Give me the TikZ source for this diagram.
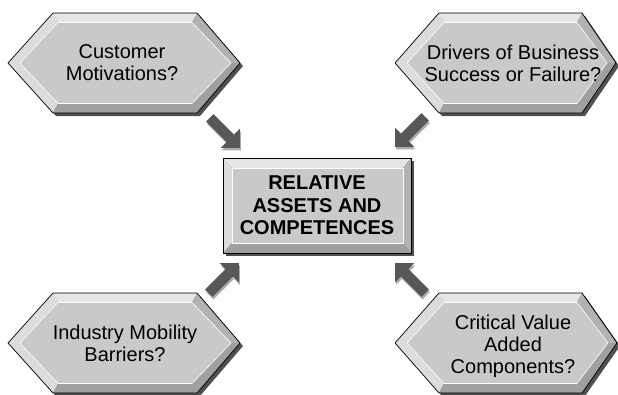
\documentclass[tikz,border=0pt]{standalone}
\usepackage{fontspec}
\setmainfont{Liberation Sans}
\usetikzlibrary{arrows.meta,calc}
\definecolor{facegray}{HTML}{C9C9C9}
\definecolor{lightbevel}{HTML}{E6E6E6}
\definecolor{softbevel}{HTML}{DCDCDC}
\definecolor{midbevel}{HTML}{B2B2B2}
\definecolor{darkbevel}{HTML}{A0A0A0}
\definecolor{shadowgray}{HTML}{505050}
\definecolor{arrowgray}{HTML}{575757}
\definecolor{arrowshade}{HTML}{ABABAB}
\tikzset{
 hextext/.style={align=center,font=\fontsize{20}{22}\selectfont},
 coretext/.style={align=center,inner sep=0pt,minimum width=188pt,minimum height=95pt,font=\bfseries\fontsize{20}{22.5}\selectfont},
 bigarrow/.style={line width=10.4pt,draw=arrowgray,-{Triangle[length=13.4pt,width=26.8pt,line width=0pt]}},
 arrowshadow/.style={bigarrow,draw=arrowshade,transform canvas={xshift=1pt,yshift=-2.5pt}},
}
% left point, top edge from #2 to #3, right point, centre height
\newcommand{\bevelhex}[5]{%
 \coordinate (L) at (#1,#5); \coordinate (A) at (#2,#5-50); \coordinate (B) at (#3,#5-50);
 \coordinate (R) at (#4,#5); \coordinate (C) at (#3,#5+50); \coordinate (D) at (#2,#5+50);
 \coordinate (l) at (#1+12,#5); \coordinate (a) at (#2+5,#5-40.5); \coordinate (b) at (#3-5,#5-40.5);
 \coordinate (r) at (#4-9,#5); \coordinate (c) at (#3-5,#5+40.5); \coordinate (d) at (#2+5,#5+40.5);
 \fill[shadowgray,transform canvas={xshift=3pt,yshift=-3pt}] (L)--(A)--(B)--(R)--(C)--(D)--cycle;
 \fill[lightbevel] (A)--(B)--(b)--(a)--cycle;
 \fill[softbevel] (A)--(L)--(D)--(d)--(l)--(a)--cycle;
 \fill[midbevel] (B)--(R)--(r)--(b)--cycle;
 \fill[darkbevel] (R)--(C)--(D)--(d)--(c)--(r)--cycle;
 \fill[facegray,draw=white,line width=0.6pt] (l)--(a)--(b)--(r)--(c)--(d)--cycle;
 \draw[line width=0.7pt] (L)--(A)--(B)--(R)--(C)--(D)--cycle;
}
% outer corners of a bevelled box
\newcommand{\bevelbox}[4]{%
 \fill[shadowgray,transform canvas={xshift=3pt,yshift=-3pt}] (#1,#2) rectangle (#3,#4);
 \fill[lightbevel] (#1,#2)--(#3,#2)--(#3-8,#2+10)--(#1+9,#2+10)--cycle;
 \fill[softbevel] (#1,#2)--(#1+9,#2+10)--(#1+9,#4-10)--(#1,#4)--cycle;
 \fill[midbevel] (#3,#2)--(#3,#4)--(#3-8,#4-10)--(#3-8,#2+10)--cycle;
 \fill[darkbevel] (#1,#4)--(#3,#4)--(#3-8,#4-10)--(#1+9,#4-10)--cycle;
 \fill[facegray,draw=white,line width=0.6pt] (#1+9,#2+10) rectangle (#3-8,#4-10);
 \draw[line width=0.7pt] (#1,#2) rectangle (#3,#4);
}
\begin{document}
\begin{tikzpicture}[x=1pt,y=-1pt]
 \useasboundingbox (0,0) rectangle (618,394);
 \bevelhex{8}{53}{197}{240}{63}
 \node[hextext] (motives) at (122,63) {Customer\\Motivations?};
 \bevelhex{395}{439}{582}{616}{63}
 \node[hextext] (drivers) at (513,63) {Drivers of Business\\Success or Failure?};
 \bevelhex{8}{53}{197}{240}{343}
 \node[hextext] (barriers) at (125,343) {Industry Mobility\\Barriers?};
 \bevelhex{395}{439}{582}{617}{343}
 \node[hextext] (components) at (513,346) {Critical Value\\Added\\Components?};
 \bevelbox{223}{158}{411}{253}
 \node[coretext] (core) at (317,205.5) {RELATIVE\\ASSETS AND\\COMPETENCES};
 \coordinate (tip1) at ($(core.north west)+(17,-10)$);
 \coordinate (tip2) at ($(core.north east)+(-16,-11)$);
 \coordinate (tip3) at ($(core.south west)+(16,10)$);
 \coordinate (tip4) at ($(core.south east)+(-16,10)$);
 \coordinate (tail1) at ($(tip1)+(-30,-30)$);
 \coordinate (tail2) at ($(tip2)+(30,-30)$);
 \coordinate (tail3) at ($(tip3)+(-30,30)$);
 \coordinate (tail4) at ($(tip4)+(30,30)$);
 \foreach \n in {1,...,4} \draw[arrowshadow] (tail\n) -- (tip\n);
 \foreach \n in {1,...,4} \draw[bigarrow] (tail\n) -- (tip\n);
\end{tikzpicture}
\end{document}
